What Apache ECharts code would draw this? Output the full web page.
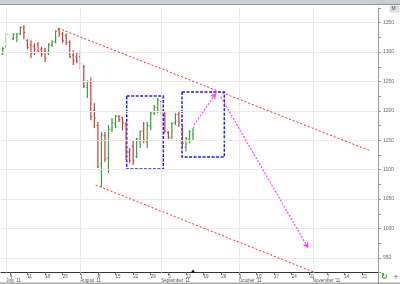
<!DOCTYPE html>
<html><head><meta charset="utf-8">
<script src="https://cdn.jsdelivr.net/npm/echarts@6/dist/echarts.min.js"></script>
<style>html,body{margin:0;padding:0;background:#fff;overflow:hidden}#c{width:400px;height:284px}</style>
</head><body><div id="c"></div>
<script>
// ---- data ----
const firstDay = '2011-06-30';
const lastAxisDay = '2011-11-25';
// one entry per weekday from Jun 30 2011 (null = no session)
const openV  = [1297,1309,null,1323,1325,1331,1341,1320,1312,1310,1313,1305,1302,1297,1311,1317,1338,1330,1328,1316,1295,1292,1292,1275,1240,1248,1200,1175,1110,1158,1120,1168,1178,1190,1188,1178,1130,1140,1122,1150,1166,1148,1175,1196,1206,1216,1196,1163,1155,1180,1194,1175,1138,1152,1160];
const highV  = [1309,1332,null,1332,1332,1344,1346,1322,1320,1315,1317,1309,1307,1315,1320,1337,1341,1334,1332,1320,1303,1300,1303,1278,1252,1257,1213,1181,1164,1164,1176,1188,1193,1193,1190,1181,1137,1150,1154,1167,1181,1181,1198,1210,1222,1218,1198,1166,1181,1196,1198,1176,1156,1167,1171];
const lowV   = [1295,1307,null,1320,1317,1329,1322,1305,1290,1295,1298,1292,1283,1295,1309,1315,1326,1315,1312,1290,1278,1281,1270,1239,1222,1184,1171,1103,1071,1113,1094,1164,1171,1181,1167,1116,1111,1108,1120,1137,1145,1137,1167,1193,1196,1193,1162,1152,1152,1176,1173,1139,1131,1145,1150];
const closeV = [1306,1330,null,1330,1331,1342,1333,1308,1298,1305,1301,1296,1290,1313,1318,1335,1332,1320,1316,1292,1285,1285,1280,1242,1250,1190,1188,1105,1160,1118,1168,1180,1191,1185,1180,1128,1116,1115,1152,1165,1150,1175,1196,1206,1218,1197,1166,1155,1178,1194,1180,1145,1153,1165,1172.5];
const lastPrice = 1172.50;
// y ticks
const yMin = 925, yMax = 1375, yStep = 25, yLabelStep = 50;
const monthNames = ['January','February','March','April','May','June','July','August','September','October','November','December'];
// annotations in (day-slot, price) units
const trendUpper = [[16.26,1340.5],[104.94,1131.8]];
const trendLower = [[26.88,1074.0],[89.13,925.0]];
const arrowUp    = [[54.78,1176.0],[61.03,1230.4]];
const arrowDown  = [[62.36,1224.1],[87.23,966.3]];
const box1 = [[35.68,1225.3],[46.07,1101.2]];
const box2 = [[51.38,1232.1],[63.38,1121.6]];

// ---- axis calendar (weekdays) ----
const axisDates = [];
for (let t = Date.parse(firstDay+'T00:00:00Z'); t <= Date.parse(lastAxisDay+'T00:00:00Z'); t += 86400000) {
  const d = new Date(t); const wd = d.getUTCDay();
  if (wd !== 0 && wd !== 6) axisDates.push(d.toISOString().slice(0,10));
}
const N = axisDates.length;
const dObj = axisDates.map(s => new Date(s+'T00:00:00Z'));
const isMonday = i => dObj[i].getUTCDay() === 1;
const isMonthStart = i => i > 0 && dObj[i].getUTCMonth() !== dObj[i-1].getUTCMonth();

const ohlc = [];
openV.forEach((o,i) => { if (o != null) ohlc.push([i, o, highV[i], lowV[i], closeV[i]]); });
const lastIdx = ohlc[ohlc.length-1][0];

const UP = '#3d9a3d', DOWN = '#c63c3c';

const gridMarks = [];
for (let v = yMin; v <= yMax; v += yStep) if (v % yLabelStep === 0) gridMarks.push({yAxis: v});
for (let i = 0; i < N; i++) if (isMonthStart(i)) gridMarks.push({xAxis: i + 0.5});

const seg = (p, color, dash, w, arrow) => [
  {coord: p[0], symbol: 'none', lineStyle: {color: color, type: dash, width: w}},
  {coord: p[1], symbol: arrow ? 'arrow' : 'none', symbolSize: arrow ? [5,6] : 0}
];
const boxStyle = {color: 'rgba(0,0,0,0)', borderColor: '#1a1aff', borderWidth: 1.5, borderType: [3,1.5]};
const labFont = {fontSize: 4.5, color: '#555', fontFamily: 'Liberation Sans'};

const chart = echarts.init(document.getElementById('c'), null, {renderer: 'canvas'});
chart.setOption({
  animation: false,
  backgroundColor: '#fff',
  grid: {left: 1, right: 22, top: 8, bottom: 11.4, containLabel: false},
  xAxis: [{
    type: 'category', data: axisDates, boundaryGap: true, position: 'bottom',
    axisLine: {onZero: false, lineStyle: {color: '#333', width: 1}},
    axisTick: {show: true, alignWithLabel: true, length: 2.5, interval: (i) => isMonday(i), lineStyle: {color: '#777'}},
    axisLabel: Object.assign({
      interval: (i) => isMonday(i), align: 'left', margin: 1.5, hideOverlap: false,
      showMinLabel: true, showMaxLabel: true,
      formatter: (val, i) => String(dObj[i].getUTCDate())
    }, labFont),
    splitLine: {show: false}
  }, {
    type: 'value', min: 0, max: N, show: false, position: 'top',
    axisLine: {show: false, onZero: false}, axisTick: {show: false}, axisLabel: {show: false}, splitLine: {show: false}
  }, {
    type: 'category', data: axisDates, boundaryGap: true, position: 'bottom', offset: 0,
    axisLine: {show: false, onZero: false}, axisTick: {show: false},
    axisLabel: Object.assign({
      interval: (i) => isMonthStart(i), align: 'left', margin: 6, hideOverlap: false,
      showMinLabel: true, showMaxLabel: true,
      formatter: (val, i) => monthNames[dObj[i].getUTCMonth()] + " '" + String(dObj[i].getUTCFullYear()).slice(2)
    }, labFont),
    splitLine: {show: false}
  }],
  yAxis: [{
    type: 'value', position: 'right', min: yMin, max: yMax, interval: yStep,
    axisLine: {show: true, onZero: false, lineStyle: {color: '#999'}},
    axisTick: {show: true, length: 3, lineStyle: {color: '#999'}},
    axisLabel: {margin: 5, fontSize: 5, color: '#666', fontFamily: 'Liberation Sans',
      formatter: v => (v % yLabelStep === 0 ? String(v) : '')},
    splitLine: {show: false}
  }],
  series: [
    { // grid lines
      type: 'line', xAxisIndex: 1, yAxisIndex: 0, data: [], silent: true, z: 1,
      markLine: {silent: true, symbol: ['none','none'], label: {show: false},
        lineStyle: {color: '#e9e9e9', type: 'solid', width: 1}, data: gridMarks}
    },
    {
      type: 'custom', xAxisIndex: 0, yAxisIndex: 0, z: 3,
      encode: {x: 0, y: [1,2,3,4]},
      data: ohlc,
      renderItem: function (params, api) {
        const i = api.value(0);
        const pO = api.coord([i, api.value(1)]);
        const pH = api.coord([i, api.value(2)]);
        const pL = api.coord([i, api.value(3)]);
        const pC = api.coord([i, api.value(4)]);
        const x = pO[0];
        const col = api.value(4) >= api.value(1) ? UP : DOWN;
        return {type: 'group', children: [
          {type: 'line', shape: {x1: x, y1: pH[1], x2: x, y2: pL[1]}, style: {stroke: col, lineWidth: 1.2}},
          {type: 'line', shape: {x1: x - 1.3, y1: pO[1], x2: x, y2: pO[1]}, style: {stroke: col, lineWidth: 1}},
          {type: 'line', shape: {x1: x, y1: pC[1], x2: x + 1.3, y2: pC[1]}, style: {stroke: col, lineWidth: 1}}
        ]};
      }
    },
    { // annotations
      type: 'line', xAxisIndex: 1, yAxisIndex: 0, data: [], silent: true, z: 5,
      markLine: {silent: true, label: {show: false}, animation: false,
        data: [
          seg(trendUpper, '#ff2020', [2,2], 1, false),
          seg(trendLower, '#ff2020', [2,2], 1, false),
          seg(arrowUp, '#ff3cff', [2,1.5], 1.2, true),
          seg(arrowDown, '#ff3cff', [2,1.5], 1.2, true)
        ]},
      markArea: {silent: true, label: {show: false},
        data: [
          [{coord: box1[0], itemStyle: boxStyle}, {coord: box1[1]}],
          [{coord: box2[0], itemStyle: boxStyle}, {coord: box2[1]}]
        ]},
      markPoint: {silent: true, label: {show: false},
        data: [{coord: [lastIdx + 0.5, yMin], symbol: 'triangle', symbolSize: [4,3], symbolOffset: [0,-1.5], itemStyle: {color: '#000'}}]}
    },
    { // last price tag
      type: 'line', xAxisIndex: 1, yAxisIndex: 0, data: [], silent: true, z: 6,
      markLine: {silent: true, symbol: ['none','none'], lineStyle: {opacity: 0},
        data: [{yAxis: lastPrice}],
        label: {show: true, position: 'end', distance: 0,
          formatter: '{a|◀}{b|' + lastPrice.toFixed(2) + '}',
          rich: {a: {color: '#1d9a1d', fontSize: 6, fontFamily: 'DejaVu Sans'},
                 b: {backgroundColor: '#111', color: '#fff', fontSize: 6, fontWeight: 'bold', padding: [1,1,0,1], fontFamily: 'Liberation Sans'}}}}
    }
  ],
  graphic: [
    {type: 'rect', shape: {x: 0, y: 0, width: 400, height: 4}, style: {fill: '#c9ced4'}, silent: true},
    {type: 'rect', shape: {x: 0, y: 4, width: 400, height: 1}, style: {fill: '#8f979f'}, silent: true},
    {type: 'rect', shape: {x: 0, y: 282.5, width: 400, height: 1.5}, style: {fill: '#a9a9a9'}, silent: true},
    {type: 'line', shape: {x1: 378.5, y1: 272, x2: 378.5, y2: 284}, style: {stroke: '#999', lineWidth: 1}, silent: true},
    {type: 'rect', shape: {x: 390, y: 6, width: 9, height: 6}, style: {fill: '#e2e2e2', stroke: '#bbb', lineWidth: 0.5}, silent: true},
    {type: 'text', x: 391.5, y: 6.5, style: {text: 'M', fontSize: 5, fill: '#444', fontFamily: 'Liberation Sans'}, silent: true},
    {type: 'text', x: 381, y: 273, style: {text: '↻', fontSize: 8, fill: '#1f9a1f', fontFamily: 'DejaVu Sans', fontWeight: 'bold'}, silent: true},
    {type: 'text', x: 393, y: 273.5, style: {text: '+', fontSize: 7, fill: '#666', fontFamily: 'DejaVu Sans'}, silent: true}
  ]
});
</script>
</body></html>
